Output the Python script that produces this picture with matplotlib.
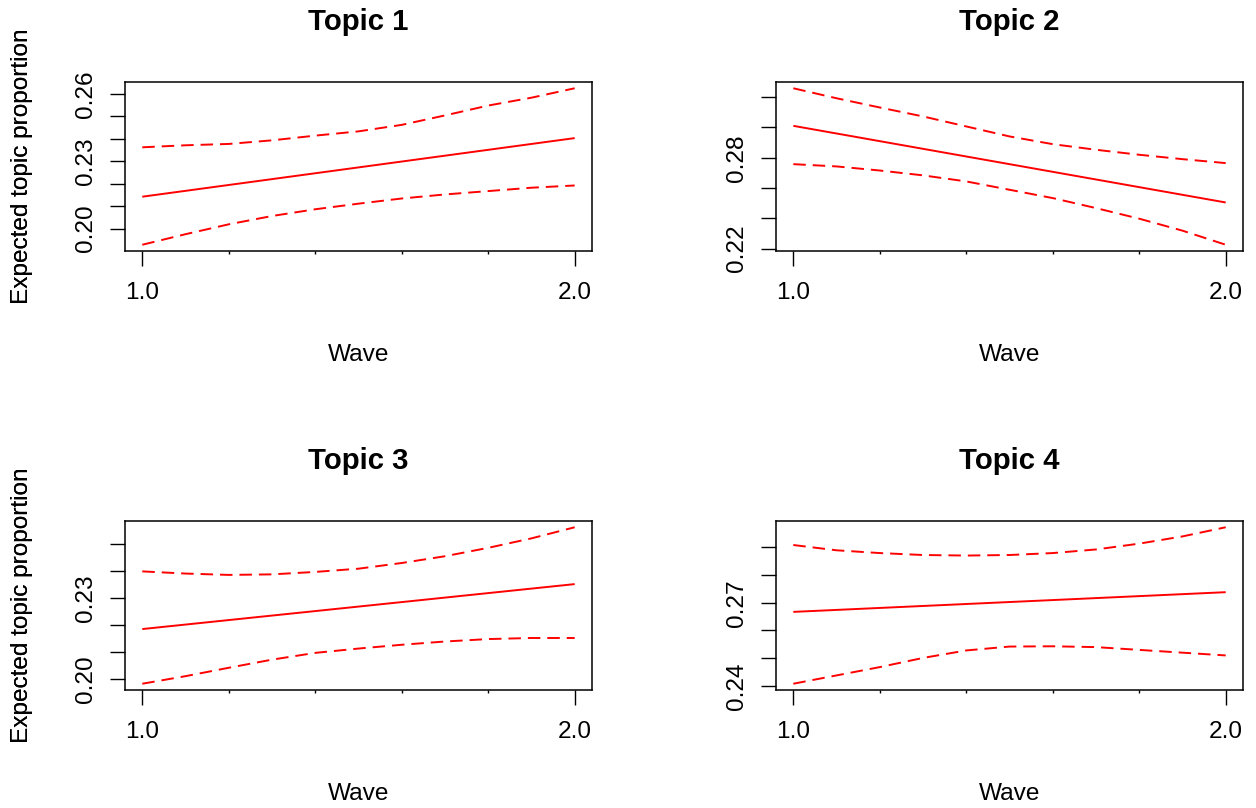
import matplotlib
matplotlib.use("Agg")
import matplotlib.pyplot as plt

plt.rcParams['font.family'] = ['Liberation Sans', 'DejaVu Sans']
plt.rcParams['lines.scale_dashes'] = False

# ---------------- data ----------------
titles = ["Topic 1", "Topic 2", "Topic 3", "Topic 4"]
x_grid = [1.0, 1.1, 1.2, 1.3, 1.4, 1.5, 1.6, 1.7, 1.8, 1.9, 2.0]
x_mean = [1.0, 2.0]

topic1_mean = [0.2142, 0.2403]
topic1_upper = [0.2362, 0.2371, 0.2377, 0.2393, 0.2414, 0.2433, 0.2462, 0.2504, 0.2548, 0.2583, 0.2625]
topic1_lower = [0.1928, 0.1975, 0.2019, 0.2056, 0.2086, 0.2111, 0.2134, 0.2152, 0.2167, 0.2182, 0.2192]

topic2_mean = [0.3011, 0.2505]
topic2_upper = [0.3259, 0.3193, 0.3132, 0.3073, 0.3007, 0.2941, 0.2890, 0.2853, 0.2820, 0.2791, 0.2765]
topic2_lower = [0.2758, 0.2743, 0.2716, 0.2684, 0.2644, 0.2589, 0.2534, 0.2468, 0.2398, 0.2319, 0.2226]

topic3_mean = [0.2186, 0.2352]
topic3_upper = [0.2399, 0.2391, 0.2386, 0.2388, 0.2397, 0.2409, 0.2430, 0.2455, 0.2486, 0.2521, 0.2562]
topic3_lower = [0.1984, 0.2012, 0.2043, 0.2073, 0.2098, 0.2114, 0.2128, 0.2140, 0.2149, 0.2153, 0.2153]

topic4_mean = [0.2667, 0.2738]
topic4_upper = [0.2908, 0.2889, 0.2879, 0.2872, 0.2870, 0.2872, 0.2879, 0.2892, 0.2913, 0.2939, 0.2972]
topic4_lower = [0.2408, 0.2438, 0.2468, 0.2501, 0.2528, 0.2542, 0.2543, 0.2540, 0.2530, 0.2520, 0.2510]

y_ticks = [
    [0.20, 0.21, 0.22, 0.23, 0.24, 0.25, 0.26],
    [0.22, 0.24, 0.26, 0.28, 0.30, 0.32],
    [0.20, 0.21, 0.22, 0.23, 0.24, 0.25],
    [0.24, 0.25, 0.26, 0.27, 0.28, 0.29],
]
y_ticklabels = [
    ["0.20", "", "", "0.23", "", "", "0.26"],
    ["0.22", "", "", "0.28", "", ""],
    ["0.20", "", "", "0.23", "", ""],
    ["0.24", "", "", "0.27", "", ""],
]
x_major = [1.0, 2.0]
x_major_labels = ["1.0", "2.0"]
x_minor = [1.2, 1.4, 1.6, 1.8]

means = [topic1_mean, topic2_mean, topic3_mean, topic4_mean]
uppers = [topic1_upper, topic2_upper, topic3_upper, topic4_upper]
lowers = [topic1_lower, topic2_lower, topic3_lower, topic4_lower]

# ---------------- layout ----------------
W, H = 1256, 808
fig = plt.figure(figsize=(W / 100, H / 100), dpi=100)

boxes = [  # left, top, right, bottom in pixels
    (125, 82, 592, 251),
    (776, 82, 1243, 251),
    (125, 521, 592, 690),
    (776, 521, 1243, 690),
]

FS = 17.6
FS_T = 21.2

for i in range(4):
    l, t, r, b = boxes[i]
    ax = fig.add_axes([l / W, (H - b) / H, (r - l) / W, (b - t) / H])
    ax.plot(x_mean, means[i], color='red', lw=1.4, solid_capstyle='butt')
    ax.plot(x_grid, uppers[i], color='red', lw=1.4, dashes=(9, 5))
    ax.plot(x_grid, lowers[i], color='red', lw=1.4, dashes=(9, 5))

    allv = means[i] + uppers[i] + lowers[i]
    lo, hi = min(allv), max(allv)
    ext = 0.04 * (hi - lo)
    ax.set_ylim(lo - ext, hi + ext)
    ax.set_xlim(0.96, 2.04)

    ax.set_yticks(y_ticks[i])
    ax.set_yticklabels(y_ticklabels[i], rotation=90, va='center', fontsize=FS)
    ax.set_xticks(x_major)
    ax.set_xticklabels(x_major_labels, fontsize=FS)
    ax.set_xticks(x_minor, minor=True)
    ax.tick_params(axis='y', which='major', length=11, width=1.0, pad=9, direction='out')
    ax.tick_params(axis='x', which='major', length=11, width=1.0, pad=11, direction='out')
    ax.tick_params(axis='x', which='minor', length=2.2, width=1.0, direction='out')
    for sp in ax.spines.values():
        sp.set_linewidth(1.1)

    ax.set_xlabel("Wave", fontsize=FS)
    ax.xaxis.set_label_coords(0.5, -(355 - 251) / (b - t))
    ax.xaxis.label.set_va('center')
    ax.set_ylabel("Expected topic proportion", fontsize=FS)
    ax.yaxis.set_label_coords((22 - l) / (r - l), 0.5)
    ax.yaxis.label.set_va('center')
    ax.text(0.5, 1 + 60 / (b - t), titles[i], transform=ax.transAxes,
            ha='center', va='center', fontsize=FS_T, fontweight='bold')

fig.savefig("out.png", dpi=100)
